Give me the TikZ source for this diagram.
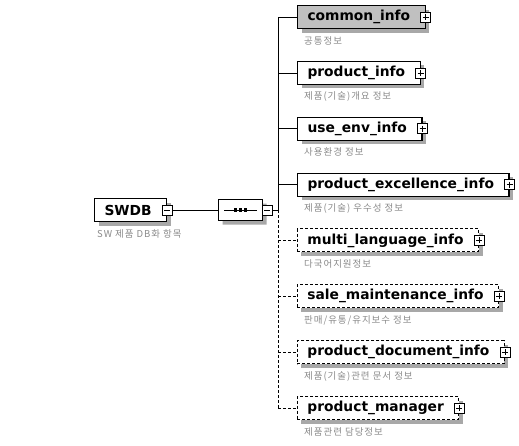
\documentclass[tikz,border=0pt]{standalone}
\usepackage{fontspec}
\setmainfont{DejaVu Sans}
\newfontfamily\cjk[LetterSpace=10]{Noto Sans CJK KR}
\usetikzlibrary{positioning,shadows,shapes.misc}
\definecolor{XSGray}{HTML}{C0C0C0}
\definecolor{XSShadow}{HTML}{A8A8A8}
\definecolor{XSNote}{HTML}{8A8A8A}
\newcommand{\elname}[1]{#1\kern5pt}
\tikzset{
  elem/.style={draw, fill=white, line width=1.1pt, anchor=west, minimum height=23pt,
               inner xsep=10pt, inner ysep=0pt, font=\bfseries\fontsize{13.8pt}{15pt}\selectfont,
               drop shadow={shadow xshift=4pt, shadow yshift=-4pt, fill=XSShadow, opacity=1}},
  optelem/.style={elem, dash pattern=on 3pt off 2pt, line width=0.9pt},
  note/.style={font=\cjk\fontsize{9.5pt}{11pt}\selectfont, text=XSNote, inner sep=0pt},
  expandbox/.style={draw, fill=white, line width=0.6pt, minimum size=10pt, inner sep=0pt},
  plusbox/.style={expandbox, path picture={
      \draw ([xshift=2pt]path picture bounding box.west) -- ([xshift=-2pt]path picture bounding box.east);
      \draw ([yshift=-2pt]path picture bounding box.north) -- ([yshift=2pt]path picture bounding box.south);}},
  minusbox/.style={expandbox, path picture={
      \draw ([xshift=2pt]path picture bounding box.west) -- ([xshift=-2pt]path picture bounding box.east);}},
  seqbox/.style={chamfered rectangle, chamfered rectangle xsep=5pt, draw, fill=white, line width=0.9pt,
                 minimum width=44pt, minimum height=21pt, inner sep=0pt,
                 drop shadow={shadow xshift=4pt, shadow yshift=-4pt, fill=XSShadow, opacity=1}},
  link/.style={line width=0.7pt},
  optlink/.style={link, dash pattern=on 3pt off 2pt},
}
\begin{document}
\begin{tikzpicture}[x=1pt, y=-1pt, node distance=55.86pt]
  \useasboundingbox (0,0) rectangle (519,445);
  % root element and its sequence
  \node[elem] (root) at (94,210) {\elname{SWDB}};
  \node[minusbox] (rootminus) at (root.east) {};
  \node[note, below right=7pt and 3pt of root.south west] (rootnote) {SW 제품 DB화 항목};
  \node[seqbox, right=51pt of root] (seq) {};
  \draw[link] ([xshift=6pt]seq.west) -- ([xshift=-6pt]seq.east);
  \foreach \dx in {-5,0,5}
    \fill ([xshift=\dx pt]seq.center) ++(-1.6pt,-1.6pt) rectangle ++(3.2pt,3.2pt);
  \node[minusbox, right=-1pt of seq] (seqminus) {};
  \draw[link] (rootminus) -- (seq);

  % children
  \node[elem, fill=XSGray] (common) at (297,17) {\elname{common\_info}};
  \node[elem, below=of common.west, anchor=west] (product) {\elname{product\_info}};
  \node[elem, below=of product.west, anchor=west] (useenv) {\elname{use\_env\_info}};
  \node[elem, below=of useenv.west, anchor=west] (excel) {\elname{product\_excellence\_info}};
  \node[optelem, below=of excel.west, anchor=west] (multilang) {\elname{multi\_language\_info}};
  \node[optelem, below=of multilang.west, anchor=west] (sale) {\elname{sale\_maintenance\_info}};
  \node[optelem, below=of sale.west, anchor=west] (doc) {\elname{product\_document\_info}};
  \node[optelem, below=of doc.west, anchor=west] (manager) {\elname{product\_manager}};

  \foreach \n in {common,product,useenv,excel,multilang,sale,doc,manager}
    \node[plusbox] (\n plus) at (\n.east) {};

  \node[note, below right=7pt and 7pt of common.south west] (commonnote) {공통정보};
  \node[note, below right=7pt and 7pt of product.south west] (productnote) {제품(기술)개요 정보};
  \node[note, below right=7pt and 7pt of useenv.south west] (useenvnote) {사용환경 정보};
  \node[note, below right=7pt and 7pt of excel.south west] (excelnote) {제품(기술) 우수성 정보};
  \node[note, below right=7pt and 7pt of multilang.south west] (multilangnote) {다국어지원정보};
  \node[note, below right=7pt and 7pt of sale.south west] (salenote) {판매/유통/유지보수 정보};
  \node[note, below right=7pt and 7pt of doc.south west] (docnote) {제품(기술)관련 문서 정보};
  \node[note, below right=7pt and 7pt of manager.south west] (managernote) {제품관련 담당정보};

  % spine
  \coordinate (spinetop) at ([xshift=-19pt]common.west);
  \coordinate (spinemid) at (spinetop |- seqminus.east);
  \coordinate (spinebot) at (spinetop |- manager.west);
  \draw[link] (seqminus.east) -- (spinemid);
  \draw[link] (spinetop) -- (spinemid);
  \draw[optlink] (spinemid) -- (spinebot);
  \foreach \n in {common,product,useenv,excel}
    \draw[link] (spinetop |- \n.west) -- (\n.west);
  \foreach \n in {multilang,sale,doc,manager}
    \draw[optlink] (spinetop |- \n.west) -- (\n.west);
\end{tikzpicture}
\end{document}
